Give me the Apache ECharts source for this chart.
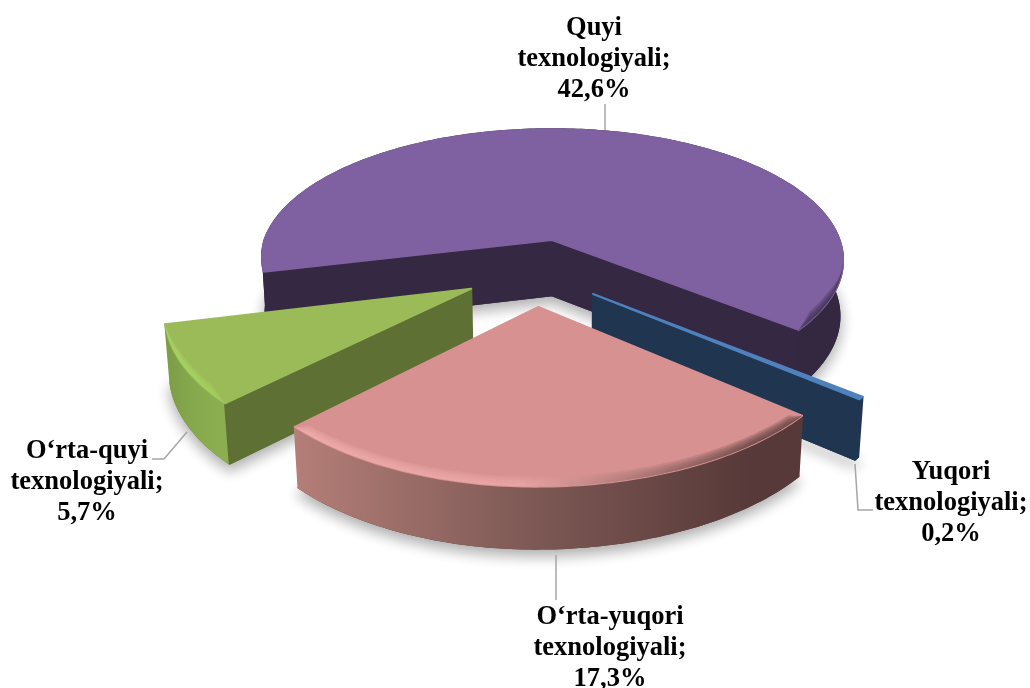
<!DOCTYPE html>
<html>
<head>
<meta charset="utf-8">
<title>Texnologiya darajasi</title>
<script src="https://cdn.jsdelivr.net/npm/echarts@6/dist/echarts.min.js"></script>
<style>
  html, body { margin: 0; padding: 0; background: #fff; }
  #main { width: 1030px; height: 688px; }
</style>
</head>
<body>
<div id="main"></div>
<script>
// data, clockwise from the start angle
var categories = ["Yuqori\ntexnologiyali", "O‘rta-yuqori\ntexnologiyali", "O‘rta-quyi\ntexnologiyali", "Quyi\ntexnologiyali"];
var values = [0.2, 17.3, 5.7, 42.6];

// look of each slice, same order as categories
var topColors = ["#4F81BD", "#D79190", "#9BBB59", "#7F60A0"];
var cutColors = ["#1F3550", "#5A3B3B", "#5E7033", "#352842"];
var wallStops = [
  ["#1F3550", "#1F3550", "#1F3550"],
  ["#B57E78", "#7F5A56", "#573939"],
  ["#7C9C47", "#85A84D", "#8BAF50"],
  ["#33283F", "#33283F", "#33283F"]
];
var rimStops = [
  ["#4F81BD", "#4F81BD", "#4F81BD"],
  ["#F4B2B0", "#EBA9A7", "#573B3A"],
  ["#ABDC63", "#A9D862", "#A4D25E"],
  ["#9174BE", "#7F60A0", "#3A2D48"]
];
// label centres and leader lines, same order as categories
var labelPos = [[951, 503], [610, 648], [87, 482], [594, 59]];
var leaders = [
  [[855, 464], [858, 510], [873, 510]],
  [[556, 555], [556, 600]],
  [[187, 432], [164, 459], [152, 459]],
  [[605, 104], [605, 130]]
];

var START_ANGLE = 39.3;
var EXPLODE = 0.245;
// projection of the tilted disc
var CX = 552, CY = 240, RX = 287.5, RY = 128, DEPTH = 57;
var K = 0.155, KX = 0.012, KZ = 0.03, SKEW = 0.025;
var RIM_LIFTS = [10, 8, 6, 4, 2];

var total = values.reduce(function (a, b) { return a + b; }, 0);
var starts = [];
var sum = 0;
values.forEach(function (v) {
  starts.push(START_ANGLE + echarts.number.linearMap(sum, [0, total], [0, 360]));
  sum += v;
});

function rad(d) { return d * Math.PI / 180; }
function span(i) { return echarts.number.linearMap(values[i], [0, total], [0, 360]); }
function dir(d) { return [Math.cos(rad(d)), Math.sin(rad(d))]; }
function clamp01(x) { return Math.max(0, Math.min(1, x)); }

// largest slice sits on the projection origin, others move away from it
var refIndex = values.indexOf(Math.max.apply(null, values));
var refDir = dir(starts[refIndex] + span(refIndex) / 2);

function sliceCenter(i) {
  var d = dir(starts[i] + span(i) / 2);
  return [EXPLODE * (d[0] - refDir[0]), EXPLODE * (d[1] - refDir[1])];
}

function project(u, v, z) {
  var w = 1 - K * v;
  // camera is a bit off axis, near left side comes in less wide
  var squeeze = u < 0 ? 1 - SKEW * Math.max(v, 0) : 1;
  return [CX + RX * u * squeeze / (w + KX * z), CY + (RY * v + DEPTH * z) / (w + KZ * z)];
}

function arcPoints(c, a0, a1, z) {
  var n = Math.max(6, Math.ceil(Math.abs(a1 - a0)));
  var pts = [];
  for (var k = 0; k <= n; k++) {
    var d = dir(a0 + (a1 - a0) * k / n);
    pts.push(project(c[0] + d[0], c[1] + d[1], z));
  }
  return pts;
}

function poly(points, fill, z2, extra) {
  var style = { fill: fill, stroke: fill, lineWidth: 2, lineJoin: "round" };
  for (var key in extra) style[key] = extra[key];
  return { type: "polygon", z2: z2, shape: { points: points }, style: style };
}

function gradient(stops, x0, x1) {
  return new echarts.graphic.LinearGradient(x0, 0, x1, 0, [
    { offset: 0, color: stops[0] },
    { offset: 0.45, color: stops[1] },
    { offset: 0.9, color: stops[2] },
    { offset: 1, color: stops[2] }
  ], true);
}

// radial side face, from the centre out to the given angle
function radialFace(c, angle, color, z2) {
  var d = dir(angle);
  var outer = [c[0] + d[0], c[1] + d[1]];
  return poly([
    project(c[0], c[1], 0), project(outer[0], outer[1], 0),
    project(outer[0], outer[1], 1), project(c[0], c[1], 1)
  ], color, z2);
}

function renderSlice(params, api) {
  var i = params.dataIndex;
  var c = sliceCenter(i);
  var a0 = starts[i];
  var a1 = a0 + span(i);
  var base = 10 + Math.round(c[1] * 100) * 10;
  var children = [];

  var topArc = arcPoints(c, a0, a1, 0);
  var bottomArc = arcPoints(c, a0, a1, 1);
  var xs = topArc.map(function (p) { return p[0]; });
  var minX = Math.min.apply(null, xs);
  var maxX = Math.max.apply(null, xs);
  var apexTop = project(c[0], c[1], 0);
  var apexBottom = project(c[0], c[1], 1);

  // soft shadow under everything
  children.push(poly(bottomArc.concat([apexBottom]), cutColors[i], 1, {
    shadowBlur: 14, shadowColor: "rgba(0,0,0,0.32)", shadowOffsetY: 6
  }));

  // outer wall
  children.push(poly(topArc.concat(bottomArc.slice().reverse()),
    gradient(wallStops[i], minX, maxX), base));

  // cut faces, only the ones turned to the viewer
  if (Math.cos(rad(a0)) < 0) children.push(radialFace(c, a0, cutColors[i], base + 1));
  if (Math.cos(rad(a1)) > 0) children.push(radialFace(c, a1, cutColors[i], base + 1));

  // top face
  children.push(poly([apexTop].concat(topArc), topColors[i], base + 2));

  // bevel along the front of the rim: bands lifted up, thinning to nothing at the sides and slice ends
  RIM_LIFTS.forEach(function (lift, b) {
    var seg = [];
    var raised = [];
    var flush = function () {
      if (seg.length > 1) {
        children.push(poly(seg.concat(raised.reverse()), gradient(rimStops[i], minX, maxX), base + 3 + b, {
          lineWidth: 0, opacity: 0.25
        }));
      }
      seg = [];
      raised = [];
    };
    var steps = Math.max(6, Math.ceil(a1 - a0));
    for (var k = 0; k <= steps; k++) {
      var a = a0 + (a1 - a0) * k / steps;
      var side = clamp01((Math.sin(rad(a)) - K) / 0.3);
      if (side > 0) {
        var d = dir(a);
        var p = project(c[0] + d[0], c[1] + d[1], 0);
        var ends = clamp01(Math.min(a - a0, a1 - a) / 4);
        seg.push(p);
        raised.push([p[0], p[1] - lift * side * ends]);
      } else {
        flush();
      }
    }
    flush();
  });

  // leader line and label
  children.push({
    type: "polyline", z2: 99990,
    shape: { points: leaders[i] },
    style: { fill: null, stroke: "#A6A6A6", lineWidth: 1.5 }
  });
  children.push({
    type: "text", z2: 99999,
    x: labelPos[i][0], y: labelPos[i][1],
    style: {
      text: categories[i] + ";\n" + String(api.value(0)).replace(".", ",") + "%",
      fill: "#000",
      font: "bold 26.5px 'Liberation Serif', serif",
      lineHeight: 31,
      align: "center",
      verticalAlign: "middle"
    }
  });

  return { type: "group", children: children };
}

var chart = echarts.init(document.getElementById("main"));
chart.setOption({
  animation: false,
  backgroundColor: "#fff",
  series: [{
    type: "custom",
    coordinateSystem: "none",
    clip: false,
    renderItem: renderSlice,
    data: values.map(function (v, i) { return { name: categories[i], value: v }; })
  }]
});
</script>
</body>
</html>
